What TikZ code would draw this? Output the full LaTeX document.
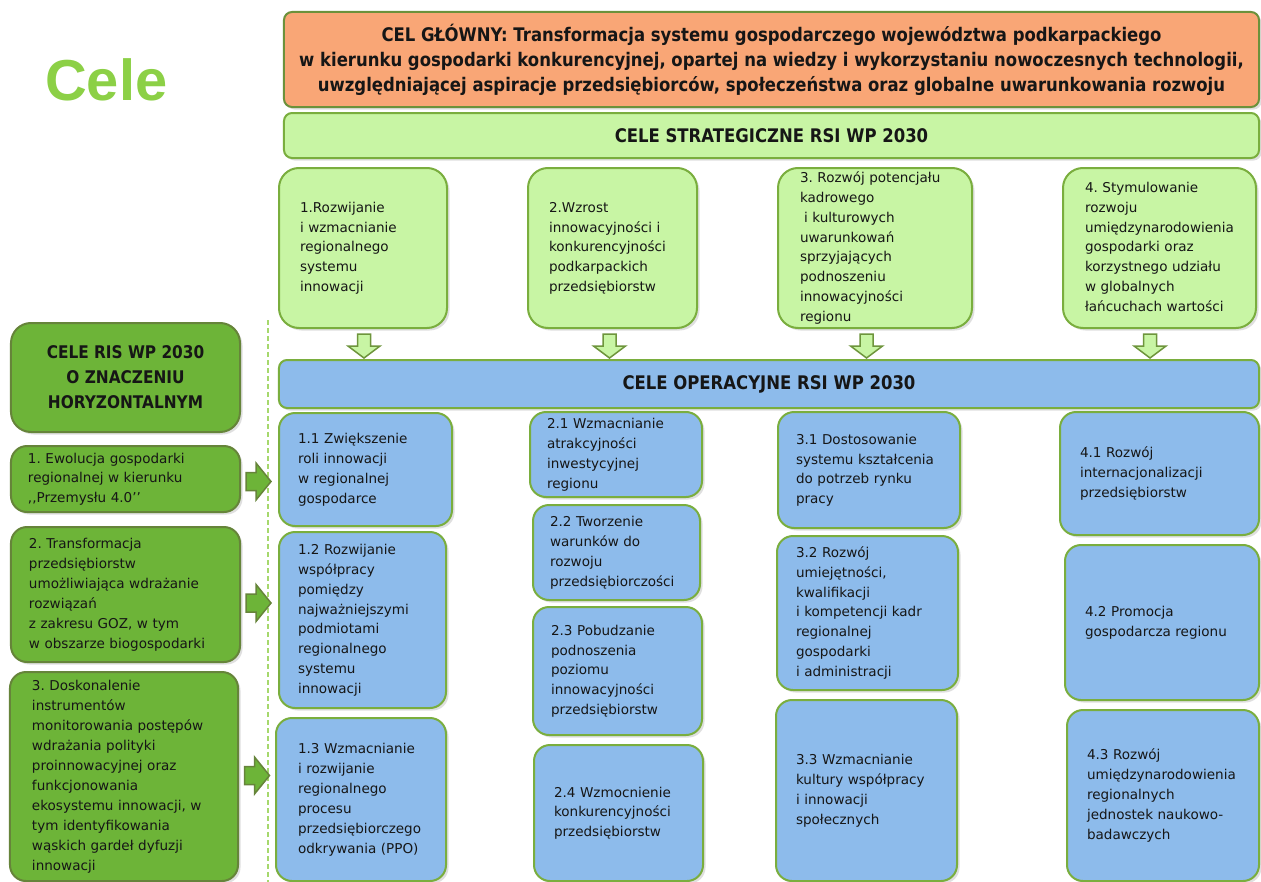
\documentclass[tikz,border=0pt]{standalone}
\usepackage{fontspec}
\setmainfont{DejaVu Sans}
\newfontfamily\hfont[FakeStretch=0.88]{DejaVu Sans}
\newfontfamily\celefont{Liberation Sans}
\usetikzlibrary{calc,shadows}
\definecolor{orfill}{HTML}{F9A676}
\definecolor{lgfill}{HTML}{C8F5A4}
\definecolor{blfill}{HTML}{8DBBEB}
\definecolor{dgfill}{HTML}{6DB438}
\definecolor{gborder}{HTML}{7AAE3E}
\definecolor{oborder}{HTML}{66843A}
\definecolor{txt}{HTML}{161616}
\definecolor{celec}{HTML}{8CD046}
\definecolor{dashc}{HTML}{A6D86C}
\newcommand\lns[1]{\noindent\begin{tabular}{@{}l@{}}#1\end{tabular}}
\newcommand\bx[7]{\node[#1,minimum width=#4bp,minimum height=#5bp,text width=#6bp] (#2) at (#3) {\lns{#7}};}
\frenchspacing
\begin{document}
\frenchspacing
\begin{tikzpicture}[x=1bp,y=-1bp,
  shad/.style={drop shadow={opacity=0.25,shadow xshift=2.5bp,shadow yshift=-2.5bp}},
  base/.style={draw, line width=2bp, inner sep=0pt, shad, text=txt, font=\frenchspacing\fontsize{13.6}{20}\selectfont, align=left},
  strat/.style={base, fill=lgfill, draw=gborder, rounded corners=20bp},
  oper/.style={base, fill=blfill, draw=gborder, rounded corners=16bp},
  horiz/.style={base, fill=dgfill, draw=oborder, rounded corners=16bp},
  bar/.style={draw, line width=2bp, inner sep=0pt, shad, text=txt, rounded corners=8bp, font=\hfont\bfseries\fontsize{18.8}{25}\selectfont, align=center},
  darrow/.style={draw=oborder!60!gborder, fill=lgfill, line width=1.5bp},
  rarrow/.style={draw=oborder, fill=dgfill, line width=1.5bp},
  dashline/.style={draw=dashc, line width=1.5bp, dash pattern=on 5bp off 3bp}]
\fill[white] (0,0) rectangle (1261,882);
\useasboundingbox (0,0) rectangle (1261,882);

% title
\node[font=\celefont\bfseries\fontsize{58}{58}\selectfont, text=celec, anchor=base west, inner sep=0pt] (cele) at (45,100) {Cele};

% main goal and bars
\node[bar, fill=orfill, draw=oborder!70!gborder, minimum width=975bp, minimum height=95bp] (main) at (771.5,59.5)
  {CEL GŁÓWNY: Transformacja systemu gospodarczego województwa podkarpackiego\\
   w kierunku gospodarki konkurencyjnej, opartej na wiedzy i wykorzystaniu nowoczesnych technologii,\\
   uwzględniającej aspiracje przedsiębiorców, społeczeństwa oraz globalne uwarunkowania rozwoju};
\node[bar, fill=lgfill, draw=gborder, minimum width=975bp, minimum height=45bp] (sbar) at (771.5,135.5) {CELE STRATEGICZNE RSI WP 2030};
\node[bar, fill=blfill, draw=gborder, minimum width=980bp, minimum height=48bp] (obar) at (769,384) {CELE OPERACYJNE RSI WP 2030};

% strategic goals
\bx{strat}{s1}{363,248}{168}{160}{126}{1.Rozwijanie\\i wzmacnianie\\regionalnego\\systemu\\innowacji}
\bx{strat}{s2}{612.5,248}{169}{160}{127}{2.Wzrost\\innowacyjności i\\konkurencyjności\\podkarpackich\\przedsiębiorstw}
\bx{strat}{s3}{875,248}{194}{160}{150}{3. Rozwój potencjału\\kadrowego\\\hspace*{0.3em}i kulturowych\\uwarunkowań\\sprzyjających\\podnoszeniu\\innowacyjności\\regionu}
\bx{strat}{s4}{1159.5,248}{193}{160}{149}{4. Stymulowanie\\rozwoju\\umiędzynarodowienia\\gospodarki oraz\\korzystnego udziału\\w globalnych\\łańcuchach wartości}

% operational goals
\bx{oper}{o11}{365.5,469.5}{173}{113}{135}{1.1 Zwiększenie\\roli innowacji\\w regionalnej\\gospodarce}
\bx{oper}{o12}{362.5,620}{167}{176}{129}{1.2 Rozwijanie\\współpracy\\pomiędzy\\najważniejszymi\\podmiotami\\regionalnego\\systemu\\innowacji}
\bx{oper}{o13}{361,799.5}{170}{163}{126}{1.3 Wzmacnianie\\i rozwijanie\\regionalnego\\procesu\\przedsiębiorczego\\odkrywania (PPO)}
\bx{oper}{o21}{616,454.5}{172}{85}{138}{2.1 Wzmacnianie\\atrakcyjności\\inwestycyjnej\\regionu}
\bx{oper}{o22}{616.5,552.5}{167}{95}{133}{2.2 Tworzenie\\warunków do\\rozwoju\\przedsiębiorczości}
\bx{oper}{o23}{617.5,671}{169}{128}{133}{2.3 Pobudzanie\\podnoszenia\\poziomu\\innowacyjności\\przedsiębiorstw}
\bx{oper}{o24}{618.5,813}{169}{136}{129}{2.4 Wzmocnienie\\konkurencyjności\\przedsiębiorstw}
\bx{oper}{o31}{869,470}{182}{116}{146}{3.1 Dostosowanie\\systemu kształcenia\\do potrzeb rynku\\pracy}
\bx{oper}{o32}{867.5,613}{181}{154}{143}{3.2 Rozwój\\umiejętności,\\kwalifikacji\\i kompetencji kadr\\regionalnej\\gospodarki\\i administracji}
\bx{oper}{o33}{866.5,790.5}{181}{181}{141}{3.3 Wzmacnianie\\kultury współpracy\\i innowacji\\społecznych}
\bx{oper}{o41}{1159.5,473.5}{199}{123}{159}{4.1 Rozwój\\internacjonalizacji\\przedsiębiorstw}
\bx{oper}{o42}{1162,622.5}{194}{155}{154}{4.2 Promocja\\gospodarcza regionu}
\bx{oper}{o43}{1163,795.5}{192}{171}{152}{4.3 Rozwój\\umiędzynarodowienia\\regionalnych\\jednostek naukowo-\\badawczych}

% horizontal goals
\node[horiz, align=center, font=\hfont\bfseries\fontsize{17.5}{25}\selectfont, minimum width=229bp, minimum height=109bp, rounded corners=20bp] (lh) at (125.5,377.5) {CELE RIS WP 2030\\O ZNACZENIU\\HORYZONTALNYM};
\bx{horiz}{l1}{125.5,479}{229}{66}{195}{1. Ewolucja gospodarki\\regionalnej w kierunku\\,\kern0pt,Przemysłu 4.0’’}
\bx{horiz}{l2}{125.5,594.5}{229}{135}{193}{2. Transformacja\\przedsiębiorstw\\umożliwiająca wdrażanie\\rozwiązań\\z zakresu GOZ, w tym\\w obszarze biogospodarki}
\bx{horiz}{l3}{124,776.5}{228}{209}{184}{3. Doskonalenie\\instrumentów\\monitorowania postępów\\wdrażania polityki\\proinnowacyjnej oraz\\funkcjonowania\\ekosystemu innowacji, w\\tym identyfikowania\\wąskich gardeł dyfuzji\\innowacji}

% dashed separator
\coordinate (dtop) at (268,320);
\coordinate (dbot) at (268,882);
\draw[dashline] (dtop) -- (dbot);

% down arrows
\coordinate (d1) at ($(s1.south)+(1,17)$);
\coordinate (d2) at ($(s2.south)+(-3,17)$);
\coordinate (d3) at ($(s3.south)+(-8.5,17)$);
\coordinate (d4) at ($(s4.south)+(-9.5,17)$);
\foreach \d in {d1,d2,d3,d4}
  \draw[darrow] (\d) ++(-6.5,-12) -- ++(13,0) -- ++(0,12) -- ++(9.5,0) -- ++(-16,12) -- ++(-16,-12) -- ++(9.5,0) -- cycle;

% right arrows
\coordinate (r1) at ($(l1.east)+(17.5,2.5)$);
\coordinate (r2) at ($(l2.east)+(17.5,8.5)$);
\coordinate (r3) at ($(l3.east)+(18,-1)$);
\foreach \r in {r1,r2,r3}
  \draw[rarrow] (\r) ++(-12.5,-9) -- ++(10,0) -- ++(0,-9.5) -- ++(15,18.5) -- ++(-15,18.5) -- ++(0,-9.5) -- ++(-10,0) -- cycle;
\end{tikzpicture}
\end{document}
